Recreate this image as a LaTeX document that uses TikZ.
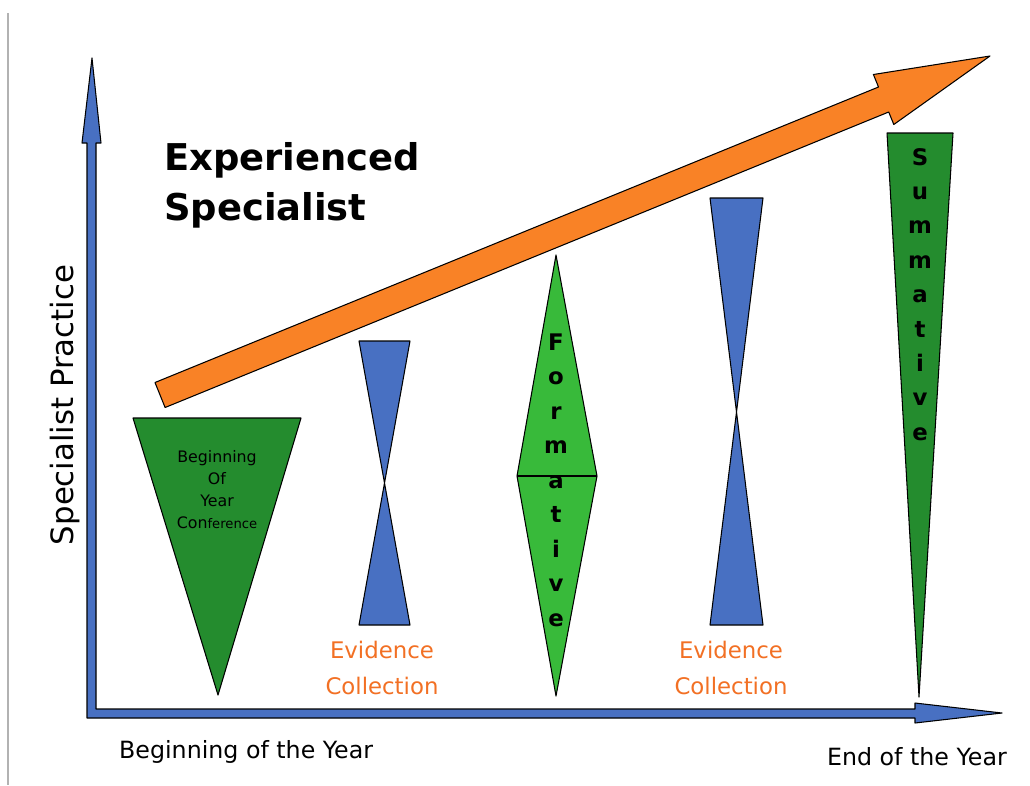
\documentclass[tikz,border=0pt]{standalone}
\usepackage{fontspec}
\setmainfont{DejaVu Sans}
\usetikzlibrary{positioning}
\definecolor{axisblue}{RGB}{72,112,194}
\definecolor{darkgreen}{RGB}{36,140,46}
\definecolor{lightgreen}{RGB}{56,186,58}
\definecolor{arroworange}{RGB}{249,130,38}
\definecolor{textorange}{RGB}{242,112,36}

\begin{document}
\begin{tikzpicture}[x=0.02cm,y=-0.02cm,
    shp/.style={draw=black,line width=0.6pt,line join=round},
    letter/.style={font=\fontsize{13}{13}\selectfont\bfseries,inner sep=0pt,anchor=base},
    evid/.style={font=\fontsize{13}{20}\selectfont,text=textorange,align=center},
    year/.style={font=\fontsize{13.5}{14}\selectfont}]
    \useasboundingbox (0,0) rectangle (1030,785);
    \draw[gray!60,line width=1pt] (8,13) -- (8,785);
    % axes
    \filldraw[shp,fill=axisblue] (92,58) -- (101,143) -- (96,143) -- (96,709) -- (915,709) -- (915,703)
        -- (1002,713) -- (915,723) -- (915,718) -- (87,718) -- (87,143) -- (82,143) -- cycle;
    \node[font=\fontsize{17.5}{18}\selectfont,rotate=90] (yaxis) at (65,405) {Specialist Practice};
    \node[year,anchor=west] (begin) at (113,752) {Beginning of the Year};
    \node[year,anchor=east] (end) at (1013,757) {End of the Year};
    % growth arrow
    \filldraw[shp,fill=arroworange] (155,382.5) -- (878.5,87) -- (873.4,74.5) -- (990,56)
        -- (893.8,124.5) -- (888.7,112) -- (165.1,407.5) -- cycle;
    \node[font=\fontsize{21}{21}\selectfont\bfseries,anchor=base west] (exp) at (158,170) {Experienced};
    \node[font=\fontsize{21}{21}\selectfont\bfseries,anchor=base west] (spec) at (158,220) {Specialist};
    % conference
    \filldraw[shp,fill=darkgreen] (133,418) -- (301,418) -- (218,695) -- cycle;
    \node[font=\fontsize{9}{12.5}\selectfont,align=center] (conf) at (217,490)
        {Beginning\\Of\\Year\\Con{\fontsize{7.5}{12.5}\selectfont ference}};
    % evidence
    \filldraw[shp,fill=axisblue] (359,341) -- (410,341) -- (384.5,483) -- cycle;
    \filldraw[shp,fill=axisblue] (384.5,483) -- (410,625) -- (359,625) -- cycle;
    \node[evid] (ev1) at (382,668) {Evidence\\Collection};
    \filldraw[shp,fill=axisblue] (710,198) -- (763,198) -- (736.5,412) -- cycle;
    \filldraw[shp,fill=axisblue] (736.5,412) -- (763,625) -- (710,625) -- cycle;
    \node[evid] (ev2) at (731,668) {Evidence\\Collection};
    % formative
    \filldraw[shp,fill=lightgreen] (556,255) -- (597,476) -- (556,696) -- (517,476) -- cycle;
    \draw[shp] (517,476) -- (597,476);
    \foreach \l [count=\i] in {F,o,r,m,a,t,i,v,e}
        \node[letter] (form\i) at (556,{350+34.5*(\i-1)}) {\l};
    % summative
    \filldraw[shp,fill=darkgreen] (887,133) -- (953,133) -- (919,697) -- cycle;
    \foreach \l [count=\i] in {S,u,m,m,a,t,i,v,e}
        \node[letter] (summ\i) at (920,{165+34.4*(\i-1)}) {\l};
\end{tikzpicture}
\end{document}
